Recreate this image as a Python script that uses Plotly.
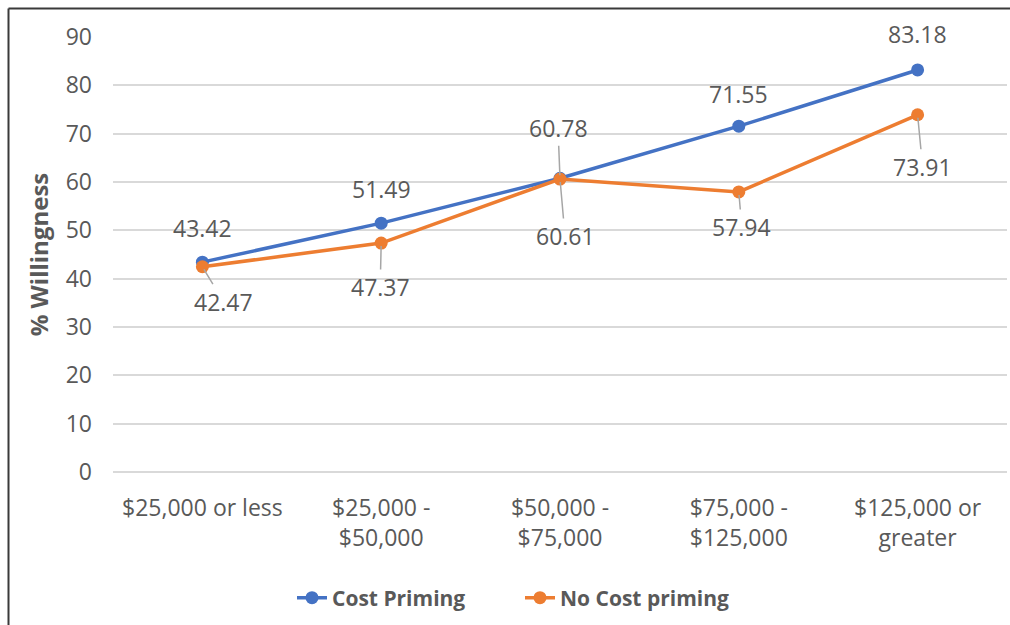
import plotly.graph_objects as go

categories = ["$25,000 or less", "$25,000 -<br>$50,000", "$50,000 -<br>$75,000",
              "$75,000 -<br>$125,000", "$125,000 or<br>greater"]
cost_priming = [43.42, 51.49, 60.78, 71.55, 83.18]
no_cost_priming = [42.47, 47.37, 60.61, 57.94, 73.91]
y_ticks = [0, 10, 20, 30, 40, 50, 60, 70, 80, 90]

# label styling (pixel offsets, leader-line flag)
cost_offsets = [(0, -34, False), (0, -34, False), (-2, -50, True), (0, -32, False), (0, -36, False)]
nocost_offsets = [(21, 35, True), (-1, 44, True), (5, 57, True), (3, 35, True), (5, 52, True)]

BLUE = "#4472C4"
ORANGE = "#ED7D31"
TXT = "#595959"
FONT = "Open Sans"

W, H = 1010, 625
ML, MR, MT, MB = 113, 3, 37, 153

fig = go.Figure()
fig.add_trace(go.Scatter(x=categories, y=cost_priming, mode="lines+markers", name="Cost Priming",
                         line=dict(color=BLUE, width=3.5), marker=dict(size=13, color=BLUE)))
fig.add_trace(go.Scatter(x=categories, y=no_cost_priming, mode="lines+markers", name="No Cost priming",
                         line=dict(color=ORANGE, width=3.5), marker=dict(size=13, color=ORANGE)))

annotations = []
for series, offs in ((cost_priming, cost_offsets), (no_cost_priming, nocost_offsets)):
    for cat, val, (dx, dy, leader) in zip(categories, series, offs):
        if leader:
            annotations.append(dict(x=cat, y=val, xref="x", yref="y", text=f"{val:.2f}",
                                    showarrow=True, arrowhead=0, arrowwidth=1.5, arrowcolor="#A6A6A6",
                                    ax=dx, ay=dy, standoff=3,
                                    font=dict(family=FONT, size=23, color=TXT)))
        else:
            annotations.append(dict(x=cat, y=val, xref="x", yref="y", text=f"{val:.2f}",
                                    showarrow=False, xshift=dx, yshift=-dy,
                                    font=dict(family=FONT, size=23, color=TXT)))

pw = W - ML - MR
ph = H - MT - MB
fx = lambda px: (px - ML) / pw
fy = lambda py: (H - MB - py) / ph

shapes = [
    dict(type="line", xref="paper", yref="paper", x0=fx(8.5), x1=fx(8.5), y0=fy(8.5), y1=fy(H + 5),
         line=dict(color="#3A3A3A", width=2)),
    dict(type="line", xref="paper", yref="paper", x0=fx(8.5), x1=fx(W + 5), y0=fy(8.5), y1=fy(8.5),
         line=dict(color="#3A3A3A", width=2)),
]

fig.update_layout(
    width=W, height=H,
    margin=dict(l=ML, r=MR, t=MT, b=MB),
    paper_bgcolor="white", plot_bgcolor="white",
    font=dict(family=FONT, color=TXT),
    annotations=annotations,
    shapes=shapes,
    showlegend=True,
    legend=dict(orientation="h", x=fx(292), xanchor="left", y=fy(598), yanchor="middle",
                font=dict(family=FONT, size=21, color=TXT, weight="bold"),
                entrywidth=183, entrywidthmode="pixels", tracegroupgap=0),
    xaxis=dict(type="category", range=[-0.5, 4.5], showgrid=False, showline=False, zeroline=False,
               ticks="", tickfont=dict(family=FONT, size=23, color=TXT), ticklabelstandoff=20),
    yaxis=dict(range=[0, 90], tickvals=y_ticks, showgrid=True, gridcolor="#D9D9D9", gridwidth=1.5,
               zeroline=True, zerolinecolor="#D9D9D9", zerolinewidth=1.5, showline=False, ticks="",
               tickfont=dict(family=FONT, size=23, color=TXT), ticklabelstandoff=20,
               title=dict(text="<b>% Willingness</b>", font=dict(family=FONT, size=24, color=TXT),
                          standoff=10)),
)

fig.write_html("out.html")
